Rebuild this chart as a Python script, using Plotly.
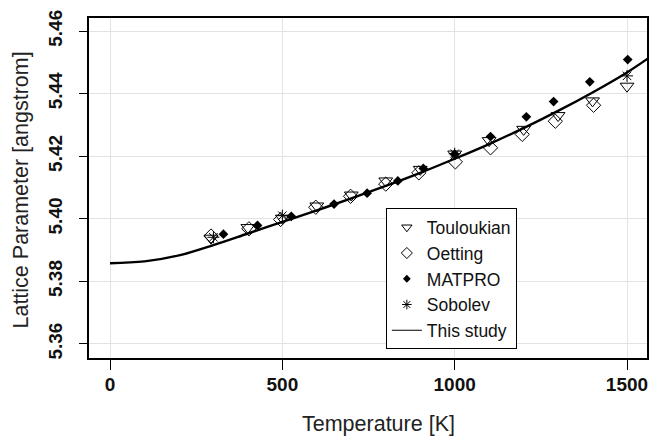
import plotly.graph_objects as go

# ---- data ----
curve_T = [0, 100, 200, 300, 400, 500, 600, 700, 800, 900, 1000, 1100, 1200, 1300, 1400, 1500, 1560]
curve_a = [5.3858, 5.3864, 5.3883, 5.3916, 5.3953, 5.3990, 5.4027, 5.4065, 5.4105, 5.4147,
           5.4192, 5.4239, 5.4290, 5.4345, 5.4404, 5.4468, 5.4512]

toul_T = [293, 400, 500, 600, 700, 800, 900, 1000, 1100, 1200, 1300, 1400, 1500]
toul_a = [5.3938, 5.3972, 5.4002, 5.4041, 5.4076, 5.4121, 5.4158, 5.4207, 5.4250, 5.4286, 5.4330, 5.4377, 5.4424]

oett_T = [293, 403, 495, 597, 698, 800, 896, 1002, 1104, 1196, 1292, 1403]
oett_a = [5.3945, 5.3968, 5.3998, 5.4037, 5.4072, 5.4111, 5.4147, 5.4182, 5.4227, 5.4270, 5.4312, 5.4363]

matp_T = [329, 428, 526, 650, 746, 835, 909, 1000, 1104, 1208, 1287, 1392, 1502]
matp_a = [5.3951, 5.3979, 5.4008, 5.4047, 5.4082, 5.4121, 5.4161, 5.4207, 5.4263, 5.4326, 5.4375, 5.4438, 5.4509]

sobo_T = [300, 500, 1000, 1500]
sobo_a = [5.3941, 5.4010, 5.4208, 5.4457]

x_ticks = [0, 500, 1000, 1500]
y_ticks = [5.36, 5.38, 5.40, 5.42, 5.44, 5.46]
y_tick_text = ["5.36", "5.38", "5.40", "5.42", "5.44", "5.46"]

FONT = "Liberation Sans, Arial, Helvetica, sans-serif"

series = [
    ("Touloukian", toul_T, toul_a, "triangle-down-open", 12, 9),
    ("Oetting", oett_T, oett_a, "diamond-open", 11, 8.5),
    ("MATPRO", matp_T, matp_a, "diamond", 7.5, 6),
    ("Sobolev", sobo_T, sobo_a, "asterisk-open", 10, 8),
]

fig = go.Figure()
for name, xs, ys, sym, size, lsize in series:
    lw = 0 if sym == "diamond" else 1
    fig.add_trace(go.Scatter(x=xs, y=ys, mode="markers", name=name, legendgroup=name,
                             showlegend=False,
                             marker=dict(symbol=sym, size=size, color="black",
                                         line=dict(width=lw, color="black"))))
    # legend key (smaller symbol, like the reference legend)
    fig.add_trace(go.Scatter(x=[None], y=[None], mode="markers", name=name, legendgroup=name,
                             showlegend=True,
                             marker=dict(symbol=sym, size=lsize, color="black",
                                         line=dict(width=lw, color="black"))))

fig.add_trace(go.Scatter(x=curve_T, y=curve_a, mode="lines", name="This study",
                         legendgroup="This study", showlegend=False,
                         line=dict(color="black", width=2.4, shape="spline")))
fig.add_trace(go.Scatter(x=[None], y=[None], mode="lines", name="This study",
                         legendgroup="This study", showlegend=True,
                         line=dict(color="black", width=1.2)))

fig.update_layout(
    width=651, height=442,
    margin=dict(l=89, r=4, t=18, b=84, autoexpand=False),
    paper_bgcolor="white", plot_bgcolor="white",
    font=dict(family=FONT, color="black"),
    showlegend=True,
    legend=dict(x=0.532, y=0.44, xanchor="left", yanchor="top",
                bgcolor="white", bordercolor="black", borderwidth=1,
                font=dict(family=FONT, size=17.5, color="#111"),
                itemsizing="trace", tracegroupgap=0),
    annotations=[
        dict(text="Temperature [K]", xref="paper", yref="paper", x=0.518, y=-0.194,
             xanchor="center", yanchor="middle", showarrow=False,
             font=dict(family=FONT, size=21.5, color="#222")),
        dict(text="Lattice Parameter [angstrom]", xref="paper", yref="paper", x=-0.121, y=0.494,
             xanchor="center", yanchor="middle", showarrow=False, textangle=-90,
             font=dict(family=FONT, size=21.5, color="#222")),
    ],
)

fig.update_xaxes(
    range=[-61, 1558], tickmode="array", tickvals=x_ticks,
    ticks="outside", ticklen=10, tickwidth=1.3, tickcolor="black",
    showline=True, linecolor="black", linewidth=1.5, mirror=True,
    showgrid=True, gridcolor="#e3e3e3", gridwidth=1, zeroline=False,
    tickfont=dict(family=FONT, size=19, color="#111", weight="bold"),
    ticklabelstandoff=-2, automargin=False,
)
fig.update_yaxes(
    range=[5.3555, 5.4642], tickmode="array", tickvals=y_ticks, ticktext=y_tick_text,
    ticks="outside", ticklen=8, tickwidth=1.3, tickcolor="black", tickangle=-90,
    showline=True, linecolor="black", linewidth=1.5, mirror=True,
    showgrid=True, gridcolor="#e3e3e3", gridwidth=1, zeroline=False,
    tickfont=dict(family=FONT, size=19, color="#111", weight="bold"),
    ticklabelstandoff=10, automargin=False,
)

fig.write_html("out.html", config={"displayModeBar": False},
               post_script="document.body.style.margin='0px';document.body.style.overflow='hidden';")
